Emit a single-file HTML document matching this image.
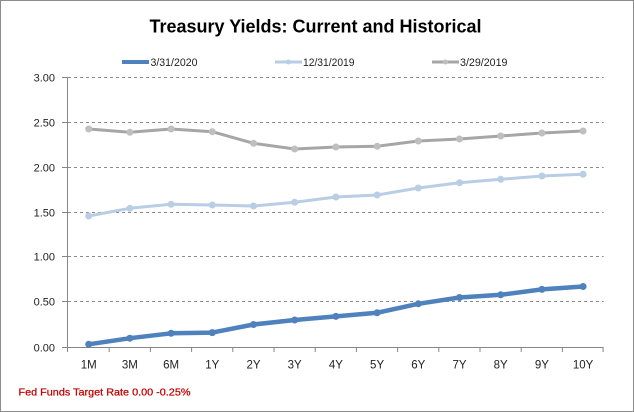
<!DOCTYPE html>
<html>
<head>
<meta charset="utf-8">
<style>
  html, body { margin: 0; padding: 0; background: #ffffff; }
  svg { display: block; }
  text { font-family: "Liberation Sans", sans-serif; }
</style>
</head>
<body>
<svg width="634" height="412" viewBox="0 0 634 412" xmlns="http://www.w3.org/2000/svg">
  <rect x="0" y="0" width="634" height="412" fill="#ffffff"/>
  <rect x="0.5" y="0.5" width="633" height="411" fill="none" stroke="#8c8c8c" stroke-width="1"/>

  <!-- Title -->
  <text x="149.5" y="32.5" font-size="18" font-weight="bold" fill="#000" textLength="332" lengthAdjust="spacingAndGlyphs">Treasury Yields: Current and Historical</text>

  <!-- Legend -->
  <line x1="122" y1="62" x2="149" y2="62" stroke="#4f81bd" stroke-width="4"/>
  <text x="150.5" y="66" font-size="11" fill="#222" textLength="47" lengthAdjust="spacingAndGlyphs">3/31/2020</text>
  <line x1="275" y1="62" x2="302" y2="62" stroke="#b9cde5" stroke-width="3"/>
  <circle cx="288.5" cy="62" r="2.5" fill="#b9cde5"/>
  <text x="303" y="66" font-size="11" fill="#222" textLength="51.5" lengthAdjust="spacingAndGlyphs">12/31/2019</text>
  <line x1="432" y1="62" x2="459" y2="62" stroke="#a6a6a6" stroke-width="3"/>
  <circle cx="445.5" cy="62" r="2.5" fill="#bfbfbf"/>
  <text x="460" y="66" font-size="11" fill="#222" textLength="47.5" lengthAdjust="spacingAndGlyphs">3/29/2019</text>

  <!-- Gridlines -->
  <g stroke="#8a8a8a" stroke-width="1" stroke-dasharray="3,3">
    <line x1="68" y1="77.5" x2="603.6" y2="77.5"/>
    <line x1="68" y1="122.5" x2="603.6" y2="122.5"/>
    <line x1="68" y1="167.5" x2="603.6" y2="167.5"/>
    <line x1="68" y1="212.5" x2="603.6" y2="212.5"/>
    <line x1="68" y1="256.5" x2="603.6" y2="256.5"/>
    <line x1="68" y1="301.5" x2="603.6" y2="301.5"/>
  </g>

  <!-- Axes -->
  <g stroke="#868686" stroke-width="1">
    <line x1="67.5" y1="77" x2="67.5" y2="347.5"/>
    <line x1="62" y1="77.5" x2="67.5" y2="77.5"/>
    <line x1="62" y1="122.5" x2="67.5" y2="122.5"/>
    <line x1="62" y1="167.5" x2="67.5" y2="167.5"/>
    <line x1="62" y1="212.5" x2="67.5" y2="212.5"/>
    <line x1="62" y1="256.5" x2="67.5" y2="256.5"/>
    <line x1="62" y1="301.5" x2="67.5" y2="301.5"/>
    <line x1="62" y1="347.5" x2="603.6" y2="347.5"/>
    <line x1="67.5" y1="347" x2="67.5" y2="352"/>
    <line x1="109.2" y1="347" x2="109.2" y2="352"/>
    <line x1="150.4" y1="347" x2="150.4" y2="352"/>
    <line x1="191.6" y1="347" x2="191.6" y2="352"/>
    <line x1="232.8" y1="347" x2="232.8" y2="352"/>
    <line x1="274" y1="347" x2="274" y2="352"/>
    <line x1="315.2" y1="347" x2="315.2" y2="352"/>
    <line x1="356.4" y1="347" x2="356.4" y2="352"/>
    <line x1="397.6" y1="347" x2="397.6" y2="352"/>
    <line x1="438.8" y1="347" x2="438.8" y2="352"/>
    <line x1="480" y1="347" x2="480" y2="352"/>
    <line x1="521.2" y1="347" x2="521.2" y2="352"/>
    <line x1="562.4" y1="347" x2="562.4" y2="352"/>
    <line x1="603.1" y1="347" x2="603.1" y2="352"/>
  </g>

  <!-- Y labels -->
  <g font-size="11" fill="#222" text-anchor="end">
    <text x="55" y="81.5">3.00</text>
    <text x="55" y="126.5">2.50</text>
    <text x="55" y="171.5">2.00</text>
    <text x="55" y="216.5">1.50</text>
    <text x="55" y="260.5">1.00</text>
    <text x="55" y="305.5">0.50</text>
    <text x="55" y="351.5">0.00</text>
  </g>

  <!-- X labels -->
  <g font-size="11.5" fill="#222" text-anchor="middle">
    <text x="88.7" y="368.5">1M</text>
    <text x="129.9" y="368.5">3M</text>
    <text x="171.1" y="368.5">6M</text>
    <text x="212.3" y="368.5">1Y</text>
    <text x="253.5" y="368.5">2Y</text>
    <text x="294.7" y="368.5">3Y</text>
    <text x="335.9" y="368.5">4Y</text>
    <text x="377.1" y="368.5">5Y</text>
    <text x="418.3" y="368.5">6Y</text>
    <text x="459.5" y="368.5">7Y</text>
    <text x="500.7" y="368.5">8Y</text>
    <text x="541.9" y="368.5">9Y</text>
    <text x="583.1" y="368.5">10Y</text>
  </g>

  <!-- Series: 3/29/2019 (gray) -->
  <polyline fill="none" stroke="#a6a6a6" stroke-width="3" stroke-linejoin="round"
    points="88.7,129 129.9,132.3 171.1,129 212.3,131.7 253.5,143.3 294.7,149 335.9,147 377.1,146.3 418.3,141 459.5,139 500.7,136 541.9,133 583.1,131"/>
  <g fill="#bfbfbf">
    <circle cx="88.7" cy="129" r="3.5"/>
    <circle cx="129.9" cy="132.3" r="3.5"/>
    <circle cx="171.1" cy="129" r="3.5"/>
    <circle cx="212.3" cy="131.7" r="3.5"/>
    <circle cx="253.5" cy="143.3" r="3.5"/>
    <circle cx="294.7" cy="149" r="3.5"/>
    <circle cx="335.9" cy="147" r="3.5"/>
    <circle cx="377.1" cy="146.3" r="3.5"/>
    <circle cx="418.3" cy="141" r="3.5"/>
    <circle cx="459.5" cy="139" r="3.5"/>
    <circle cx="500.7" cy="136" r="3.5"/>
    <circle cx="541.9" cy="133" r="3.5"/>
    <circle cx="583.1" cy="131" r="3.5"/>
  </g>

  <!-- Series: 12/31/2019 (light blue) -->
  <polyline fill="none" stroke="#b9cde5" stroke-width="3" stroke-linejoin="round"
    points="88.7,216 129.9,208.3 171.1,204.3 212.3,205 253.5,206 294.7,202.3 335.9,197 377.1,195 418.3,188 459.5,182.7 500.7,179.3 541.9,176 583.1,174.3"/>
  <g fill="#b9cde5">
    <circle cx="88.7" cy="216" r="3.5"/>
    <circle cx="129.9" cy="208.3" r="3.5"/>
    <circle cx="171.1" cy="204.3" r="3.5"/>
    <circle cx="212.3" cy="205" r="3.5"/>
    <circle cx="253.5" cy="206" r="3.5"/>
    <circle cx="294.7" cy="202.3" r="3.5"/>
    <circle cx="335.9" cy="197" r="3.5"/>
    <circle cx="377.1" cy="195" r="3.5"/>
    <circle cx="418.3" cy="188" r="3.5"/>
    <circle cx="459.5" cy="182.7" r="3.5"/>
    <circle cx="500.7" cy="179.3" r="3.5"/>
    <circle cx="541.9" cy="176" r="3.5"/>
    <circle cx="583.1" cy="174.3" r="3.5"/>
  </g>

  <!-- Series: 3/31/2020 (blue) -->
  <polyline fill="none" stroke="#4f81bd" stroke-width="4.5" stroke-linejoin="round" stroke-linecap="round"
    points="88.7,344.3 129.9,338.2 171.1,333.3 212.3,332.6 253.5,324.5 294.7,320 335.9,316.4 377.1,312.8 418.3,303.8 459.5,297.5 500.7,294.8 541.9,289.4 583.1,286.5"/>
  <g fill="#4f81bd">
    <circle cx="88.7" cy="344.3" r="3.5"/>
    <circle cx="129.9" cy="338.2" r="3.5"/>
    <circle cx="171.1" cy="333.3" r="3.5"/>
    <circle cx="212.3" cy="332.6" r="3.5"/>
    <circle cx="253.5" cy="324.5" r="3.5"/>
    <circle cx="294.7" cy="320" r="3.5"/>
    <circle cx="335.9" cy="316.4" r="3.5"/>
    <circle cx="377.1" cy="312.8" r="3.5"/>
    <circle cx="418.3" cy="303.8" r="3.5"/>
    <circle cx="459.5" cy="297.5" r="3.5"/>
    <circle cx="500.7" cy="294.8" r="3.5"/>
    <circle cx="541.9" cy="289.4" r="3.5"/>
    <circle cx="583.1" cy="286.5" r="3.5"/>
  </g>

  <!-- Footnote -->
  <text x="18.5" y="395.5" font-size="10.5" fill="#c00000" stroke="#c00000" stroke-width="0.25" textLength="172" lengthAdjust="spacingAndGlyphs">Fed Funds Target Rate 0.00 -0.25%</text>
</svg>
</body>
</html>
